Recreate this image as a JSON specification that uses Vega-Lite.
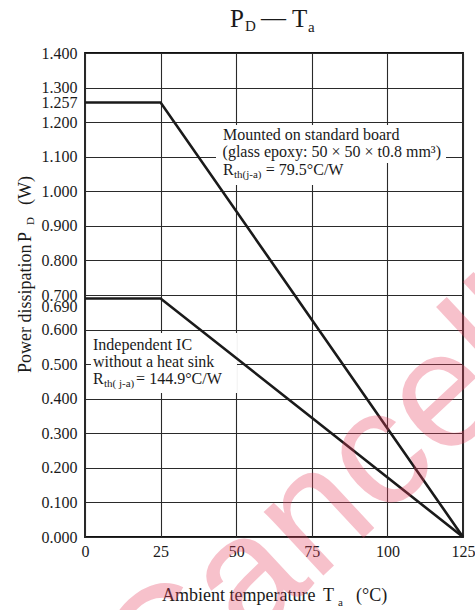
{
  "$schema": "https://vega.github.io/schema/vega-lite/v6.json",
  "width": 378,
  "height": 484,
  "autosize": {"type": "none"},
  "padding": {"left": 85, "top": 53, "right": 12, "bottom": 73},
  "background": "white",
  "config": {"view": {"stroke": "#111", "strokeWidth": 1.8}},
  "datasets": {
    "lines": [
      {"series": "board", "x": 0, "y": 1.257},
      {"series": "board", "x": 25, "y": 1.257},
      {"series": "board", "x": 125, "y": 0},
      {"series": "ic", "x": 0, "y": 0.69},
      {"series": "ic", "x": 25, "y": 0.69},
      {"series": "ic", "x": 125, "y": 0}
    ],
    "boxes": [
      {"x": 43.32, "x2": 119.38, "y": 1.1918, "y2": 1.0819},
      {"x": 44.31, "x2": 85.98, "y": 1.0819, "y2": 1.0183},
      {"x": 1.98, "x2": 50.26, "y": 0.5901, "y2": 0.4165}
    ],
    "texts": [
      {"t": "P", "k": "title", "x": 47.95, "y": 1.4753},
      {"t": "D", "k": "titlesub", "x": 52.9, "y": 1.4637},
      {"t": "—", "k": "title", "x": 58.2, "y": 1.478},
      {"t": "T", "k": "title", "x": 68.45, "y": 1.4753},
      {"t": "a", "k": "titlesub", "x": 73.74, "y": 1.4608},
      {"t": "Ambient temperature", "k": "label", "x": 25.46, "y": -0.1851},
      {"t": "T", "k": "label", "x": 78.7, "y": -0.1851},
      {"t": "a", "k": "sub", "x": 83.66, "y": -0.1996},
      {"t": "(°C)", "k": "label", "x": 89.6, "y": -0.1851},
      {"t": "Mounted on standard board", "k": "note", "x": 45.63, "y": 1.1484},
      {"t": "(glass epoxy: 50 × 50 × t0.8 mm³)", "k": "note", "x": 45.5, "y": 1.0992},
      {"t": "R", "k": "note", "x": 45.63, "y": 1.0472},
      {"t": "th(j-a)", "k": "sub", "x": 49.27, "y": 1.0385},
      {"t": "= 79.5°C/W", "k": "note", "x": 59.8, "y": 1.0472},
      {"t": "Independent IC", "k": "note", "x": 2.65, "y": 0.5409},
      {"t": "without a heat sink", "k": "note", "x": 2.65, "y": 0.4918},
      {"t": "R", "k": "note", "x": 2.65, "y": 0.4426},
      {"t": "th( j-a)", "k": "sub", "x": 6.28, "y": 0.4339},
      {"t": "= 144.9°C/W", "k": "note", "x": 16.9, "y": 0.4426}
    ],
    "ytitle": [
      {"t": "Power dissipation", "k": "label", "x": -17.86, "y": 0.4744},
      {"t": "P", "k": "label", "x": -17.86, "y": 0.8533},
      {"t": "D", "k": "sub", "x": -16.86, "y": 0.9025},
      {"t": "(W)", "k": "label", "x": -17.86, "y": 0.9604}
    ],
    "wm": [
      {"t": "Cancelled", "x": 113.76, "y": 0.1736}
    ]
  },
  "encoding": {
    "x": {
      "field": "x", "type": "quantitative", "title": null,
      "scale": {"domain": [0, 125], "nice": false, "zero": false},
      "axis": {
        "values": [0, 25, 50, 75, 100, 125],
        "grid": true, "gridColor": "#2a2a2a", "gridWidth": 1.1,
        "domain": false, "ticks": false, "labelFlush": false,
        "labelFont": "Liberation Serif", "labelFontSize": 16, "labelColor": "#1a1a1a",
        "labelPadding": 6
      }
    },
    "y": {
      "field": "y", "type": "quantitative", "title": null,
      "scale": {"domain": [0, 1.4], "nice": false, "zero": false},
      "axis": {
        "values": [0, 0.1, 0.2, 0.3, 0.4, 0.5, 0.6, 0.69, 0.7, 0.8, 0.9, 1.0, 1.1, 1.2, 1.257, 1.3, 1.4],
        "format": ".3f",
        "grid": true, "gridColor": "#2a2a2a", "gridWidth": 1.1,
        "gridOpacity": {"condition": {"test": "datum.value == 1.257 || datum.value == 0.69", "value": 0}, "value": 1},
        "labelBaseline": {"condition": {"test": "datum.value == 0.69", "value": "top"}, "value": "middle"},
        "domain": false, "ticks": false, "labelOverlap": false,
        "labelFont": "Liberation Serif", "labelFontSize": 16, "labelColor": "#1a1a1a",
        "labelPadding": 8
      }
    }
  },
  "layer": [
    {
      "data": {"name": "boxes"},
      "mark": {"type": "rect", "fill": "white", "stroke": null},
      "encoding": {"x2": {"field": "x2"}, "y2": {"field": "y2"}}
    },
    {
      "data": {"name": "lines"},
      "mark": {"type": "line", "color": "#1a1a1a", "strokeWidth": 2.6},
      "encoding": {"detail": {"field": "series", "type": "nominal"}}
    },
    {
      "data": {"name": "texts"},
      "transform": [{"filter": "datum.k == 'title'"}],
      "mark": {"type": "text", "font": "Liberation Serif", "fontSize": 25, "align": "left", "baseline": "alphabetic", "color": "#1a1a1a"},
      "encoding": {"text": {"field": "t"}}
    },
    {
      "data": {"name": "texts"},
      "transform": [{"filter": "datum.k == 'titlesub'"}],
      "mark": {"type": "text", "font": "Liberation Serif", "fontSize": 15, "align": "left", "baseline": "alphabetic", "color": "#1a1a1a"},
      "encoding": {"text": {"field": "t"}}
    },
    {
      "data": {"name": "texts"},
      "transform": [{"filter": "datum.k == 'label'"}],
      "mark": {"type": "text", "font": "Liberation Serif", "fontSize": 18, "align": "left", "baseline": "alphabetic", "color": "#1a1a1a"},
      "encoding": {"text": {"field": "t"}}
    },
    {
      "data": {"name": "texts"},
      "transform": [{"filter": "datum.k == 'note'"}],
      "mark": {"type": "text", "font": "Liberation Serif", "fontSize": 16, "align": "left", "baseline": "alphabetic", "color": "#1a1a1a"},
      "encoding": {"text": {"field": "t"}}
    },
    {
      "data": {"name": "texts"},
      "transform": [{"filter": "datum.k == 'sub'"}],
      "mark": {"type": "text", "font": "Liberation Serif", "fontSize": 11, "align": "left", "baseline": "alphabetic", "color": "#1a1a1a"},
      "encoding": {"text": {"field": "t"}}
    },
    {
      "data": {"name": "ytitle"},
      "transform": [{"filter": "datum.k == 'label'"}],
      "mark": {"type": "text", "font": "Liberation Serif", "fontSize": 18, "align": "left", "baseline": "alphabetic", "angle": -90, "color": "#1a1a1a"},
      "encoding": {"text": {"field": "t"}}
    },
    {
      "data": {"name": "ytitle"},
      "transform": [{"filter": "datum.k == 'sub'"}],
      "mark": {"type": "text", "font": "Liberation Serif", "fontSize": 11, "align": "left", "baseline": "alphabetic", "angle": -90, "color": "#1a1a1a"},
      "encoding": {"text": {"field": "t"}}
    },
    {
      "data": {"name": "wm"},
      "mark": {"type": "text", "font": "Liberation Sans", "fontSize": 165, "angle": -43, "align": "center", "baseline": "alphabetic", "color": "#e84060", "opacity": 0.32},
      "encoding": {"text": {"field": "t"}}
    }
  ]
}
